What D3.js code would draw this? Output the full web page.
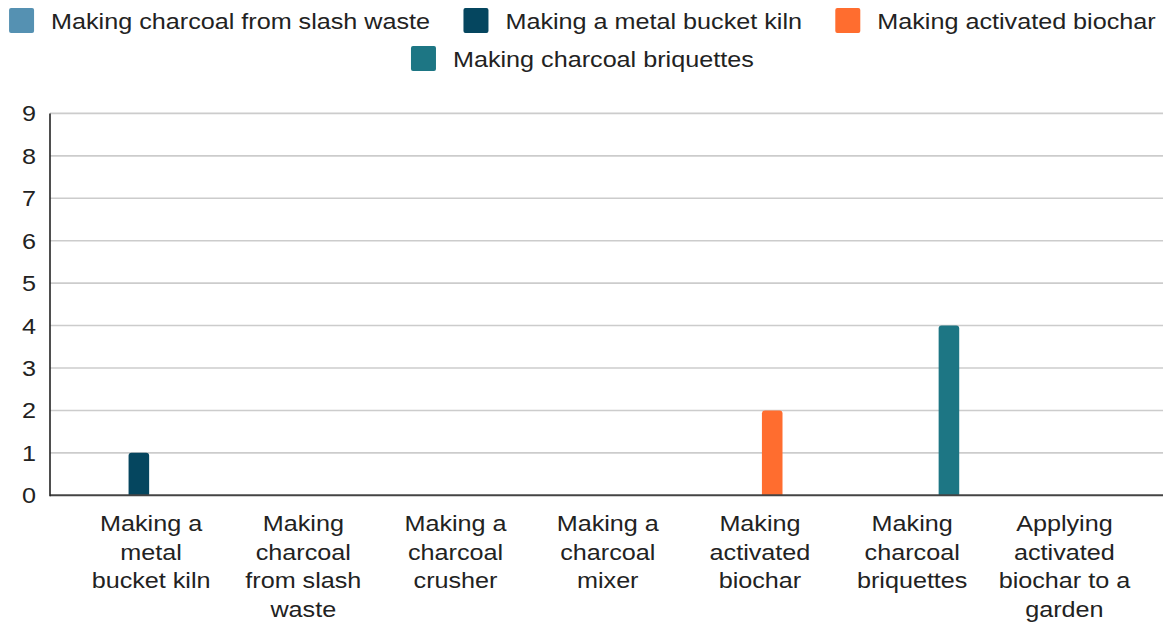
<!DOCTYPE html>
<html>
<head>
<meta charset="utf-8">
<script src="https://cdn.jsdelivr.net/npm/d3@7"></script>
<style>
  html, body { margin: 0; padding: 0; background: #fff; }
  svg { display: block; }
  text { font-family: Arial, "Liberation Sans", sans-serif; fill: #222; }
</style>
</head>
<body>
<svg id="chart" width="1163" height="624"></svg>
<script>
// ---- data ----
const categories = [
  ["Making a", "metal", "bucket kiln"],
  ["Making", "charcoal", "from slash", "waste"],
  ["Making a", "charcoal", "crusher"],
  ["Making a", "charcoal", "mixer"],
  ["Making", "activated", "biochar"],
  ["Making", "charcoal", "briquettes"],
  ["Applying", "activated", "biochar to a", "garden"]
];
const seriesNames = [
  "Making charcoal from slash waste",
  "Making a metal bucket kiln",
  "Making activated biochar",
  "Making charcoal briquettes"
];
const seriesColors = ["#5591b2", "#05465f", "#ff6d2f", "#1d7684"];
const slashWaste  = [0, 0, 0, 0, 0, 0, 0];
const bucketKiln  = [1, 0, 0, 0, 0, 0, 0];
const activated   = [0, 0, 0, 0, 2, 0, 0];
const briquettes  = [0, 0, 0, 0, 0, 4, 0];
const yTicks = [0, 1, 2, 3, 4, 5, 6, 7, 8, 9];

const seriesValues = [slashWaste, bucketKiln, activated, briquettes];

// ---- layout ----
const FS = 22, SX = 1.145;
const svg = d3.select("#chart");
const W = 1163;
const plotLeft = 50, plotRight = 1163, yBottom = 495.3, yTop = 113.4;

const catIdx = categories.map((d, i) => i);
const x0 = d3.scaleBand().domain(catIdx).range([75, 1140.5]);
const bw = x0.bandwidth();
const x1 = d3.scaleBand().domain(d3.range(seriesNames.length))
  .range([bw / 2 - 49, bw / 2 + 49]).paddingInner(0.16).paddingOuter(0.08);
const y = d3.scaleLinear().domain([0, 9]).range([yBottom, yTop]);

// gridlines
svg.append("g").selectAll("line").data(yTicks.filter(t => t > 0)).join("line")
  .attr("x1", plotLeft).attr("x2", plotRight)
  .attr("y1", d => y(d)).attr("y2", d => y(d))
  .attr("stroke", "#cccccc").attr("stroke-width", 1.6);

// y tick labels
svg.append("g").selectAll("text").data(yTicks).join("text")
  .attr("transform", d => `translate(36,${y(d) + 8}) scale(${SX},1)`)
  .attr("text-anchor", "end").attr("font-size", FS)
  .text(d => d);

// bars (rounded top)
function barPath(x, w, y0, y1, r) {
  r = Math.min(r, (y0 - y1), w / 2);
  return `M${x},${y0}V${y1 + r}Q${x},${y1} ${x + r},${y1}H${x + w - r}Q${x + w},${y1} ${x + w},${y1 + r}V${y0}Z`;
}
const barData = [];
seriesValues.forEach((vals, s) => vals.forEach((v, c) => { if (v > 0) barData.push({ s, c, v }); }));
svg.append("g").selectAll("path").data(barData).join("path")
  .attr("d", d => barPath(x0(d.c) + x1(d.s), x1.bandwidth(), yBottom, y(d.v), 3))
  .attr("fill", d => seriesColors[d.s]);

// axes lines
svg.append("line").attr("x1", plotLeft).attr("x2", plotRight)
  .attr("y1", yBottom).attr("y2", yBottom)
  .attr("stroke", "#444").attr("stroke-width", 2);
svg.append("line").attr("x1", plotLeft).attr("x2", plotLeft)
  .attr("y1", yTop).attr("y2", yBottom + 1)
  .attr("stroke", "#222").attr("stroke-width", 1.6);

// category labels
const cg = svg.append("g").selectAll("g").data(categories).join("g")
  .attr("transform", (d, i) => `translate(${x0(i) + bw / 2},0)`);
cg.selectAll("text").data(d => d).join("text")
  .attr("transform", (d, j) => `translate(0,${531 + j * 28.7}) scale(${SX},1)`)
  .attr("text-anchor", "middle").attr("font-size", FS)
  .text(d => d);

// legend
const sw = 25, gapSwText = 17, gapItems = 33, maxW = 1155;
const items = seriesNames.map((name, i) => {
  const t = svg.append("text").attr("font-size", FS).text(name);
  const tw = t.node().getComputedTextLength() * SX;
  t.remove();
  return { name, i, w: sw + gapSwText + tw, tw };
});
const rows = [[]];
let cur = 0;
items.forEach(it => {
  const add = (rows[rows.length - 1].length ? gapItems : 0) + it.w;
  if (cur + add > maxW && rows[rows.length - 1].length) { rows.push([it]); cur = it.w; }
  else { rows[rows.length - 1].push(it); cur += add; }
});
const lg = svg.append("g");
rows.forEach((row, r) => {
  const total = d3.sum(row, d => d.w) + gapItems * (row.length - 1);
  let x = (W - total) / 2 + 1;
  const cy = 20.5 + r * 38;
  row.forEach(it => {
    lg.append("rect").attr("x", x).attr("y", cy - 12.5).attr("width", sw).attr("height", 25)
      .attr("rx", 2).attr("fill", seriesColors[it.i]);
    lg.append("text").attr("transform", `translate(${x + sw + gapSwText},${cy + 8.5}) scale(${SX},1)`)
      .attr("font-size", FS).text(it.name);
    x += it.w + gapItems;
  });
});
</script>
</body>
</html>
